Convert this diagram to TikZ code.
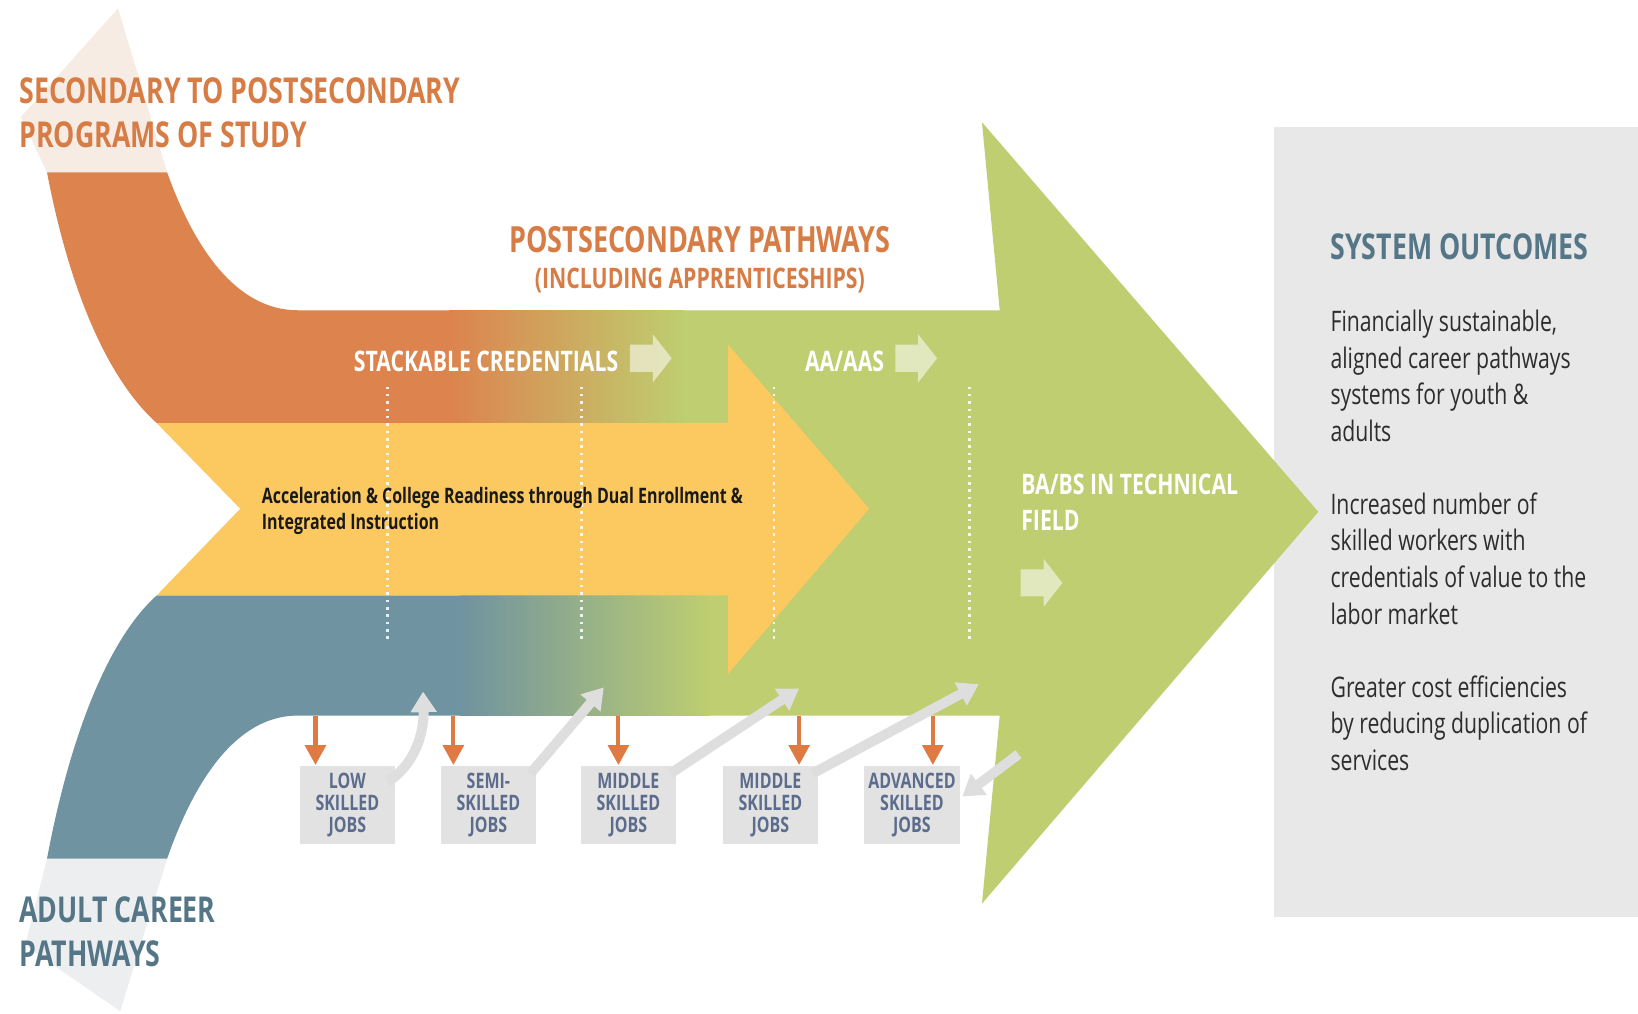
\documentclass[tikz,border=0pt]{standalone}
\usepackage{fontspec}
\usetikzlibrary{arrows.meta}
\newfontfamily\osf{Open Sans}[FakeStretch=0.75]

\definecolor{bandorange}{RGB}{221,131,78}
\definecolor{bandblue}{RGB}{111,147,160}
\definecolor{leaf}{RGB}{190,206,112}
\definecolor{sun}{RGB}{252,201,96}
\definecolor{peach}{RGB}{247,236,228}
\definecolor{mist}{RGB}{236,238,240}
\definecolor{panelgray}{RGB}{232,232,232}
\definecolor{boxgray}{RGB}{226,226,226}
\definecolor{jobtext}{RGB}{92,108,140}
\definecolor{headorange}{RGB}{214,124,68}
\definecolor{headslate}{RGB}{84,118,135}
\definecolor{bodytext}{RGB}{45,45,45}
\definecolor{droporange}{RGB}{222,122,66}
\definecolor{riselight}{RGB}{222,222,222}

\tikzset{
  every node/.style={inner sep=0pt},
  bighead/.style={anchor=north west, align=left,
    font=\osf\bfseries\fontsize{9.7}{11.8}\selectfont},
  bandlabel/.style={anchor=north west, align=left, text=white,
    font=\osf\bfseries\fontsize{7.7}{9.7}\selectfont},
  outcome/.style={anchor=north west, align=left, text=bodytext,
    font=\osf\fontsize{7.7}{9.96}\selectfont},
  jobbox/.style={fill=boxgray, minimum width=0.91cm, minimum height=0.75cm,
    align=center, text=jobtext,
    font=\osf\bfseries\fontsize{5.8}{6}\selectfont},
  droparrow/.style={draw=droporange, line width=1.1pt,
    -{Triangle[width=5.6pt,length=5.4pt]}},
  risearrow/.style={draw=riselight, line width=2.7pt,
    -{Triangle[width=6.8pt,length=5.6pt]}},
  divider/.style={white, opacity=.85, line width=0.75pt,
    dash pattern=on 0.7pt off 1.3pt},
  blockarrow/.pic={
    \fill[white, opacity=.55] (0,-13) -- (22,-13) -- (22,-23) -- (40,0)
      -- (22,23) -- (22,13) -- (0,13) -- cycle;}
}

\begin{document}
\begin{tikzpicture}[x=0.01cm, y=-0.01cm]
\useasboundingbox (0,0) rectangle (1568,970);
\fill[white] (0,0) rectangle (1568,970);

% outcome panel
\fill[panelgray] (1220,122) rectangle (1568,878);

% pale arrow tips of the two entry streams
\fill[peach] (45,165) -- (20,112) -- (113,8) -- (160,165) -- cycle;
\fill[mist] (45,822) -- (24,905) -- (115,968) -- (160,822) -- cycle;

% large green arrow
\fill[leaf] (600,297) -- (957,297) -- (940,117) -- (1262,490)
  -- (940,865) -- (957,685) -- (600,685) -- cycle;

% orange stream (secondary to postsecondary)
\fill[bandorange] (45,165) -- (160,165)
  .. controls (185,235) and (225,297) .. (285,297) -- (432,297)
  -- (432,405) -- (150,405) .. controls (100,360) and (65,270) .. (45,165) -- cycle;
% blue stream (adult career pathways)
\fill[bandblue] (150,570) -- (442,570) -- (442,685) -- (285,685)
  .. controls (225,685) and (185,750) .. (160,822) -- (45,822)
  .. controls (65,715) and (100,615) .. (150,570) -- cycle;

% blends into green
\shade[left color=bandorange, right color=leaf] (430,297) rectangle (655,405);
\shade[left color=bandblue, right color=leaf] (440,570) rectangle (680,685);

% yellow arrow
\fill[sun] (150,405) -- (697,405) -- (697,330) -- (832,487) -- (697,645)
  -- (697,570) -- (150,570) -- (230,487) -- cycle;

% dotted dividers
\foreach \x in {371,557,741,928}
  \draw[divider] (\x,370) -- (\x,612);

% headings
\node[bighead, text=headorange] (secpost) at (18,74)
  {SECONDARY TO POSTSECONDARY\\PROGRAMS OF STUDY};
\node[bighead, text=headslate] (adult) at (18,858)
  {ADULT CAREER\\PATHWAYS};
\node[anchor=base, text=headorange,
  font=\osf\bfseries\fontsize{9.8}{11.8}\selectfont] (pspath) at (670,242)
  {POSTSECONDARY PATHWAYS};
\node[anchor=base, text=headorange,
  font=\osf\bfseries\fontsize{7.7}{10}\selectfont] (appr) at (670,276)
  {(INCLUDING APPRENTICESHIPS)};

% stream labels
\node[bandlabel] (stack) at (338,335) {STACKABLE CREDENTIALS};
\node[bandlabel] (aaas) at (770,335) {AA/AAS};
\node[bandlabel] (babs) at (977,453) {BA/BS IN TECHNICAL\\FIELD};
\pic at (603,343) {blockarrow};
\pic at (857,343) {blockarrow};
\pic at (977,558) {blockarrow};

\node[anchor=north west, align=left, text=black!90,
  font=\osf\bfseries\fontsize{5.8}{6.9}\selectfont] (accel) at (250,466)
  {Acceleration \& College Readiness through Dual Enrollment \&\\Integrated Instruction};

% outcomes
\node[bighead, text=headslate] (outhead) at (1273,223) {SYSTEM OUTCOMES};
\node[outcome] (out1) at (1273,296)
  {Financially sustainable,\\aligned career pathways\\systems for youth \&\\adults};
\node[outcome] (out2) at (1273,471)
  {Increased number of\\skilled workers with\\credentials of value to the\\labor market};
\node[outcome] (out3) at (1273,646)
  {Greater cost efficiencies\\by reducing duplication of\\services};

% job boxes
\node[jobbox] (low)  at (332.5,770.5) {LOW\\SKILLED\\JOBS};
\node[jobbox] (semi) at (467.5,770.5) {SEMI-\\SKILLED\\JOBS};
\node[jobbox] (mid1) at (601.5,770.5) {MIDDLE\\SKILLED\\JOBS};
\node[jobbox] (mid2) at (737.5,770.5) {MIDDLE\\SKILLED\\JOBS};
\node[jobbox] (adv)  at (873,770.5) {ADVANCED\\SKILLED\\JOBS};

% exits from the stream down to jobs
\coordinate (x1) at (302,685);
\coordinate (x2) at (434,685);
\coordinate (x3) at (592,685);
\coordinate (x4) at (765,685);
\coordinate (x5) at (893,685);
\draw[droparrow] (x1) -- (x1 |- low.north);
\draw[droparrow] (x2) -- (x2 |- semi.north);
\draw[droparrow] (x3) -- (x3 |- mid1.north);
\draw[droparrow] (x4) -- (x4 |- mid2.north);
\draw[droparrow] (x5) -- (x5 |- adv.north);

% re-entries from jobs back into the stream
\coordinate (r1) at (405,662);
\coordinate (r2) at (578,658);
\coordinate (r3) at (765,659);
\coordinate (r4) at (937,655);
\coordinate (r5) at (975,722);
\draw[risearrow] ([xshift=-0.08cm, yshift=0.22cm]low.east)
  .. controls (398,732) and (406,700) .. (r1);
\draw[risearrow] ([xshift=-0.06cm, yshift=0.3cm]semi.east) -- (r2);
\draw[risearrow] ([xshift=-0.06cm, yshift=0.3cm]mid1.east) -- (r3);
\draw[risearrow] ([xshift=-0.06cm, yshift=0.3cm]mid2.east) -- (r4);
\draw[risearrow] (r5) -- ([xshift=0.02cm, yshift=0.08cm]adv.east);
\end{tikzpicture}
\end{document}
